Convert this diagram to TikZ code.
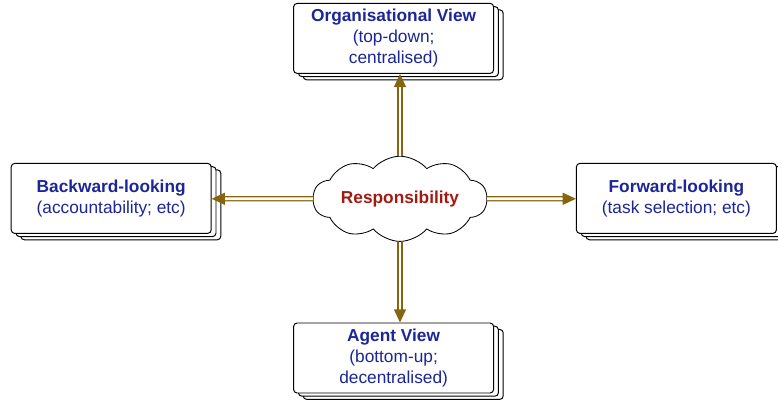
\documentclass[tikz,border=0pt]{standalone}
\usepackage{fontspec}
\setmainfont{Liberation Sans}
\usetikzlibrary{shapes.symbols, shadows, arrows.meta}
\definecolor{viewblue}{RGB}{28,38,150}
\definecolor{respred}{RGB}{160,28,18}
\definecolor{arrowbrown}{RGB}{135,100,15}
\tikzstyle{view} = [rectangle, rounded corners=2.5pt, minimum width=5cm, minimum height=1.75cm, text centered, align=center, draw=black, line width=0.7pt, fill=white, text=viewblue, double copy shadow={shadow xshift=0.12cm, shadow yshift=-0.08cm}]
\tikzstyle{centre} = [cloud, cloud puffs=10, cloud puff arc=100, aspect=2.6, minimum width=4.35cm, minimum height=1.35cm, inner sep=0pt, draw=black, line width=0.6pt, fill=white, text=respred, font=\fontsize{12.3}{15}\selectfont\bfseries]
\tikzstyle{arrow} = [draw=arrowbrown, double=white, double distance=2pt, line width=0.9pt, -{Triangle[length=0.33cm, width=0.3cm]}]

\begin{document}
\begin{tikzpicture}[node distance =4cm, font=\fontsize{12.3}{15}\selectfont]
\useasboundingbox (0,0) rectangle (19.45,-10);
\node (resp) [centre] at (10,-4.97) {Responsibility};

\node (org) [view, above of = resp, xshift = -0.16cm, yshift = 0.01cm] {\textbf{Organisational View}\\(top-down;\\centralised)};
\node (agent) [view, below of = resp, xshift = -0.16cm, yshift = 0.02cm] {\textbf{Agent View}\\(bottom-up;\\decentralised)};
\node (back) [view, left of = resp, xshift = -3.22cm, yshift = 0.01cm] {\textbf{Backward-looking}\\(accountability; etc)};
\node (fwd) [view, right of = resp, xshift = 2.91cm, yshift = 0.01cm] {\textbf{Forward-looking}\\(task selection; etc)};

\draw [arrow] (resp) -- (resp |- org.south);
\draw [arrow] (resp) -- (resp |- agent.north);
\draw [arrow] (resp) -- (resp -| back.east);
\draw [arrow] (resp) -- (resp -| fwd.west);
\end{tikzpicture}
\end{document}
